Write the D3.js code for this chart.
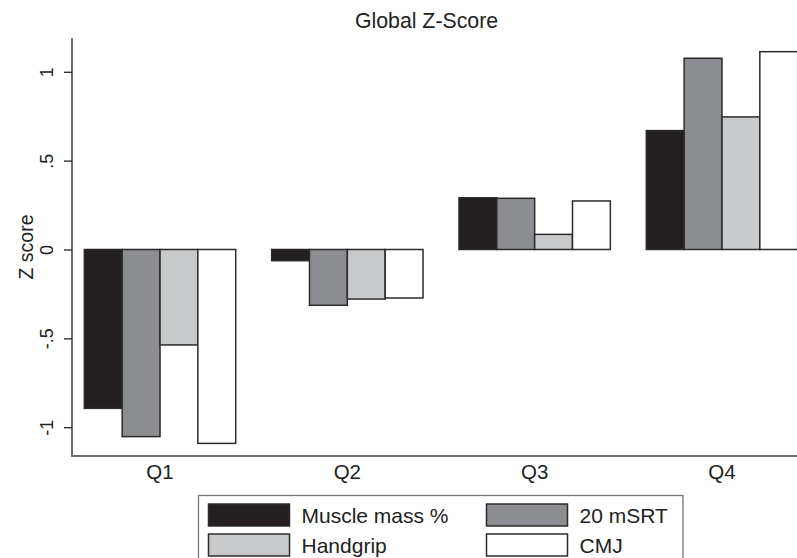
<!DOCTYPE html>
<html>
<head>
<meta charset="utf-8">
<script src="https://cdn.jsdelivr.net/npm/d3@7"></script>
<style>
  html, body { margin: 0; padding: 0; background: #fff; }
  svg { display: block; font-family: "Liberation Sans", Arial, sans-serif; }
</style>
</head>
<body>
<svg id="chart" width="797" height="558"></svg>
<script>
const categories = ["Q1", "Q2", "Q3", "Q4"];
const seriesNames = ["Muscle mass %", "20 mSRT", "Handgrip", "CMJ"];
const muscleMass = [-0.894, -0.063, 0.291, 0.669];
const mSRT20 = [-1.053, -0.314, 0.288, 1.076];
const handgrip = [-0.537, -0.279, 0.085, 0.746];
const cmj = [-1.091, -0.273, 0.273, 1.113];
const yTickValues = [-1, -0.5, 0, 0.5, 1];
const yTickLabels = ["-1", "-.5", "0", ".5", "1"];
const seriesColors = ["#231f20", "#8c8d90", "#c8c9cb", "#ffffff"];

const seriesValues = [muscleMass, mSRT20, handgrip, cmj];
const svg = d3.select("#chart");
const TICK_FONT = 18, XLAB_FONT = 20.5, YTITLE_FONT = 19.5, TITLE_FONT = 21.3, LEGEND_FONT = 21;
const INK = "#222";

const plotTop = 38, plotBottom = 456, axisX = 72;
const y = d3.scaleLinear().domain([-1.162, 1.190]).range([plotBottom, plotTop]);
const x = d3.scaleBand().domain(categories).range([66.35, 815.65])
  .paddingInner(0.192).paddingOuter(0.096);
const xs = d3.scaleBand().domain(seriesNames).range([0, x.bandwidth()]).padding(0);

// bars
const groups = svg.append("g").selectAll("g").data(categories).join("g")
  .attr("transform", d => `translate(${x(d)},0)`);
groups.selectAll("rect")
  .data((c, i) => seriesNames.map((s, j) => ({ s, j, v: seriesValues[j][i] })))
  .join("rect")
  .attr("x", d => xs(d.s))
  .attr("width", xs.bandwidth())
  .attr("y", d => y(Math.max(0, d.v)))
  .attr("height", d => Math.abs(y(d.v) - y(0)))
  .attr("fill", d => seriesColors[d.j])
  .attr("stroke", "#2b2b2b")
  .attr("stroke-width", 1.5);

// y axis
const yAxis = svg.append("g").attr("transform", `translate(${axisX},0)`)
  .call(d3.axisLeft(y).tickValues(yTickValues)
    .tickFormat((d, i) => yTickLabels[i]).tickSize(8).tickSizeOuter(0));
yAxis.select(".domain").attr("stroke", "#6e6e6e").attr("stroke-width", 2)
  .attr("d", `M0,${plotTop}V${plotBottom}`);
yAxis.selectAll(".tick line").attr("stroke", INK).attr("stroke-width", 1.3);
yAxis.selectAll(".tick text")
  .attr("transform", "rotate(-90)")
  .attr("x", 0).attr("y", -19).attr("dy", 0)
  .attr("text-anchor", "middle")
  .attr("font-size", TICK_FONT).attr("fill", INK)
  .style("font-family", "Liberation Sans, Arial, sans-serif");

// x axis
const xAxis = svg.append("g").attr("transform", `translate(0,${plotBottom})`)
  .call(d3.axisBottom(x).tickSize(0).tickSizeOuter(0));
xAxis.select(".domain").attr("stroke", "#6e6e6e").attr("stroke-width", 2)
  .attr("d", `M${axisX - 1},0H797`);
xAxis.selectAll(".tick text").attr("y", 23).attr("dy", 0)
  .attr("font-size", XLAB_FONT).attr("fill", INK)
  .style("font-family", "Liberation Sans, Arial, sans-serif");

// y title
svg.append("text").attr("transform", "translate(33,247) rotate(-90)")
  .attr("text-anchor", "middle").attr("font-size", YTITLE_FONT).attr("fill", INK)
  .text("Z score");

// title
svg.append("text").attr("x", 426.5).attr("y", 28)
  .attr("text-anchor", "middle").attr("font-size", TITLE_FONT).attr("fill", INK)
  .text("Global Z-Score");

// legend
const lg = svg.append("g");
lg.append("rect").attr("x", 198.5).attr("y", 495.5).attr("width", 484.5).attr("height", 80)
  .attr("fill", "#fff").attr("stroke", "#777").attr("stroke-width", 1.3);
const legendCols = [208.5, 486.5];
const legendRows = [504, 534];
seriesNames.forEach((name, i) => {
  const cx = legendCols[i % 2], ry = legendRows[Math.floor(i / 2)];
  lg.append("rect").attr("x", cx).attr("y", ry).attr("width", 81).attr("height", 22)
    .attr("fill", seriesColors[i]).attr("stroke", "#2b2b2b").attr("stroke-width", 1.5);
  lg.append("text").attr("x", cx + 93).attr("y", ry + 19)
    .attr("font-size", LEGEND_FONT).attr("fill", INK).text(name);
});
</script>
</body>
</html>
